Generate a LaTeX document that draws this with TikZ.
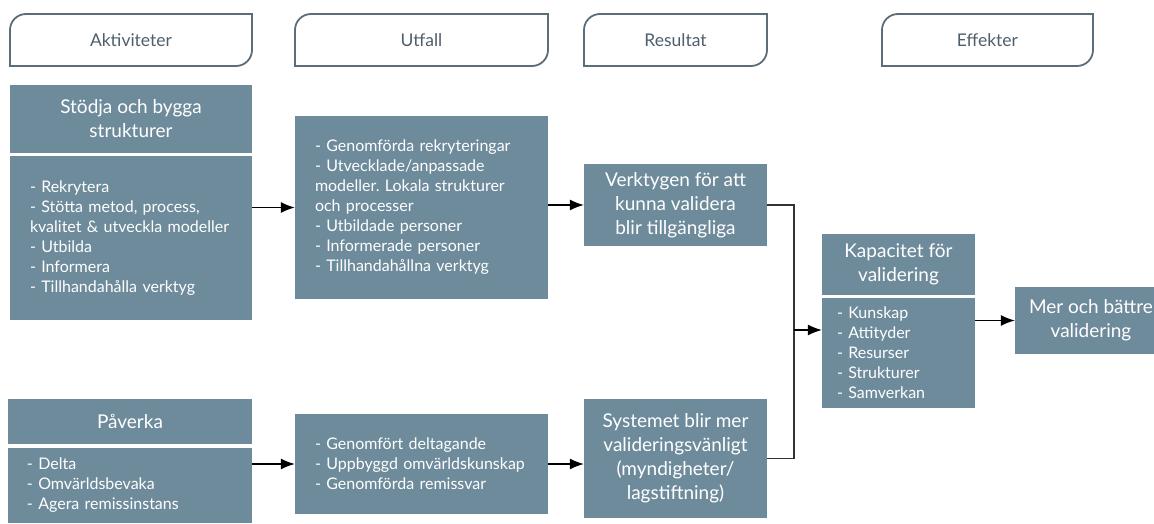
\documentclass[tikz,border=0pt]{standalone}
\usepackage{fontspec}
\setmainfont{Lato}
\usetikzlibrary{arrows.meta}
\frenchspacing

\definecolor{boxcol}{HTML}{6E8B9C}
\definecolor{tabcol}{HTML}{5B6D79}
\definecolor{tabtxt}{HTML}{4E5F6B}

\tikzset{
  tab/.style={draw=tabcol, line width=1.8pt},
  tabtext/.style={text=tabtxt, font=\fontsize{17.5}{20}\selectfont},
  box/.style={fill=boxcol, text=white, inner sep=0pt, align=center},
  title/.style={box, font=\fontsize{19}{24}\selectfont},
  list/.style={box, align=left, font=\fontsize{16}{20}\selectfont},
  arr/.style={-{Latex[length=14pt,width=11pt]}, line width=1.2pt},
}

\begin{document}
\begin{tikzpicture}[x=1pt, y=1pt]

\useasboundingbox (0,0) rectangle (1154,523);

% column headings
\draw[tab] (10,457) -- (10,493) arc[start angle=180, end angle=90, radius=16pt] -- (252,509) -- (252,473) arc[start angle=0, end angle=-90, radius=16pt] -- cycle;
\node[tabtext] (hAkt) at (131,483) {Aktiviteter};
\draw[tab] (295,457) -- (295,493) arc[start angle=180, end angle=90, radius=16pt] -- (548,509) -- (548,473) arc[start angle=0, end angle=-90, radius=16pt] -- cycle;
\node[tabtext] (hUtf) at (421.5,483) {Utfall};
\draw[tab] (584,457) -- (584,493) arc[start angle=180, end angle=90, radius=16pt] -- (767,509) -- (767,473) arc[start angle=0, end angle=-90, radius=16pt] -- cycle;
\node[tabtext] (hRes) at (675.5,483) {Resultat};
\draw[tab] (882,457) -- (882,493) arc[start angle=180, end angle=90, radius=16pt] -- (1093,509) -- (1093,473) arc[start angle=0, end angle=-90, radius=16pt] -- cycle;
\node[tabtext] (hEff) at (987.5,483) {Effekter};

% aktiviteter
\node[title, minimum width=242pt, minimum height=68pt] (stodja) at (131,404) {Stödja och bygga\\strukturer};
\node[list, minimum width=242pt, minimum height=164pt, text width=202pt] (stodjaBody) at (131,285)
  {- Rekrytera\\- Stötta metod, process,\\kvalitet \& utveckla modeller\\- Utbilda\\- Informera\\- Tillhandahålla verktyg};
\node[title, minimum width=244pt, minimum height=45pt] (paverka) at (130,101.5) {Påverka};
\node[list, minimum width=244pt, minimum height=75pt, text width=206pt] (paverkaBody) at (130,37.5)
  {- Delta\\- Omvärldsbevaka\\- Agera remissinstans};

% utfall
\node[list, minimum width=253pt, minimum height=183pt, text width=213pt] (utfallA) at (421.5,315.5)
  {- Genomförda rekryteringar\\- Utvecklade/anpassade\\modeller. Lokala strukturer\\och processer\\- Utbildade personer\\- Informerade personer\\- Tillhandahållna verktyg};
\node[list, minimum width=253pt, minimum height=100pt, text width=213pt] (utfallB) at (421.5,59)
  {- Genomfört deltagande\\- Uppbyggd omvärldskunskap\\- Genomförda remissvar};

% resultat
\node[title, minimum width=183pt, minimum height=82pt] (verktyg) at (675.5,318) {Verktygen för att\\kunna validera\\blir tillgängliga};
\node[title, minimum width=183pt, minimum height=119pt] (system) at (675.5,64.5) {Systemet blir mer\\valideringsvänligt\\(myndigheter/\\lagstiftning)};

% effekter
\node[title, minimum width=153pt, minimum height=61pt] (kapacitet) at (898.5,258.5) {Kapacitet för\\validering};
\node[list, minimum width=153pt, minimum height=110pt, text width=123pt] (kapBody) at (898.5,170)
  {- Kunskap\\- Attityder\\- Resurser\\- Strukturer\\- Samverkan};
\node[title, minimum width=152pt, minimum height=67pt] (mer) at (1091,202.5) {Mer och bättre\\validering};

% pilar
\draw[arr] (stodjaBody.east |- utfallA.west) -- (utfallA.west);
\draw[arr] (utfallA.east |- verktyg.west) -- (verktyg.west);
\draw[arr] (paverkaBody.east |- utfallB.west) -- (utfallB.west);
\draw[arr] (utfallB.east) -- (utfallB.east -| system.west);

\coordinate (join) at (794,193);
\draw[line width=1.3pt, black!80] (verktyg.east) -- (verktyg.east -| join) -- (system.east -| join) -- (system.east);
\draw[arr] (join) -- (join -| kapBody.west);
\draw[arr] (kapBody.east |- mer.west) -- (mer.west);

\end{tikzpicture}
\end{document}
